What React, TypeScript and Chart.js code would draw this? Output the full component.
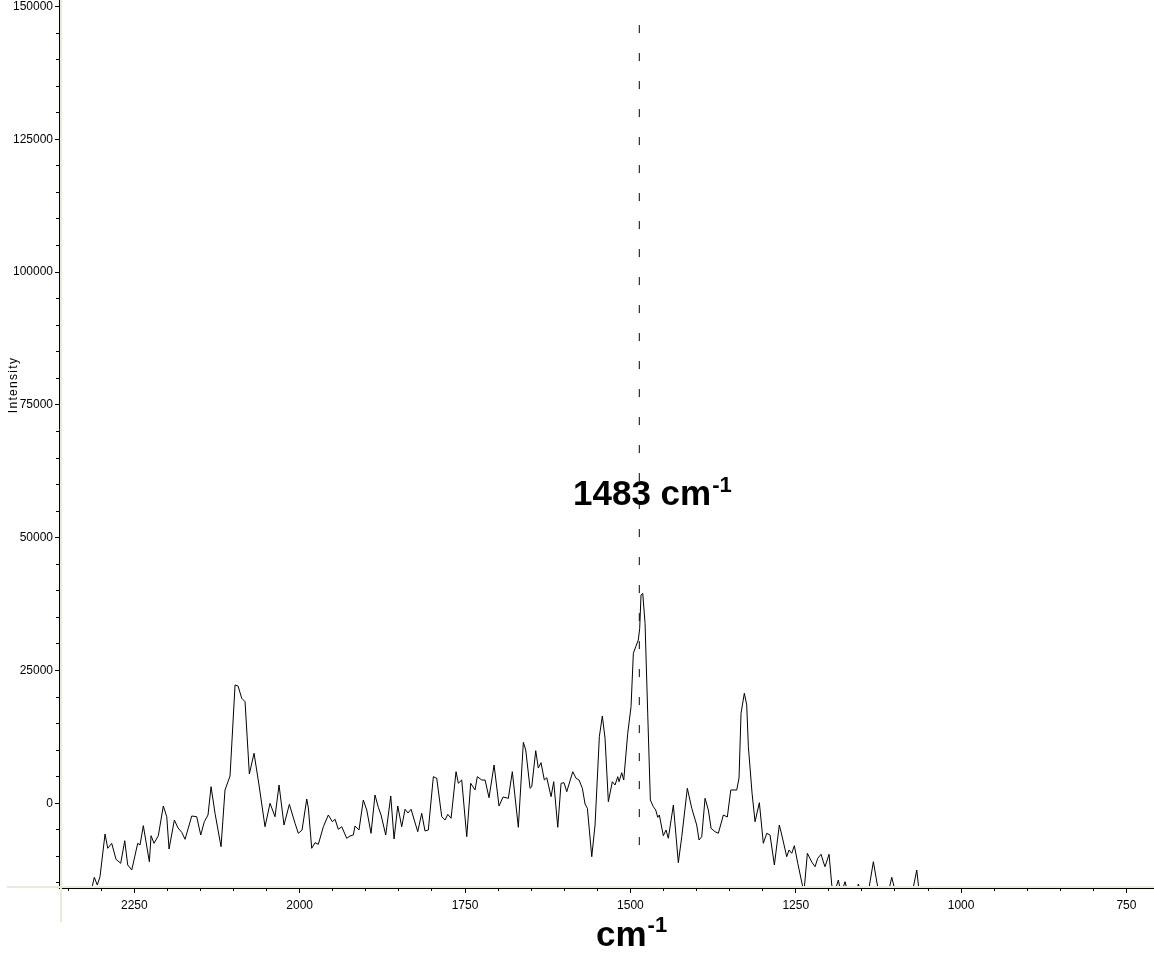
import React, { useEffect, useRef } from 'react';
import { Chart, registerables } from 'chart.js';

Chart.register(...registerables);

// ---- data (wavenumber in cm-1, intensity) ----
const waveNumbers = [
  2317, 2313.5, 2310.5, 2306, 2301.9, 2294.3, 2290.2, 2284.2, 2277.7, 2270.6,
  2264.5, 2260, 2253.9, 2244.9, 2241.4, 2236.4, 2227.3, 2224.7, 2220.2, 2213.7,
  2206.2, 2201, 2197.5, 2189.5, 2183.9, 2178.3, 2173.3, 2163.2, 2155.7, 2149.6,
  2144.2, 2138.6, 2134, 2128, 2118.9, 2112.9, 2105.3, 2097.7, 2093.2, 2087.6,
  2082.6, 2076.1, 2069, 2061.5, 2052.4, 2044.8, 2037.3, 2031.2, 2023.7, 2015.6,
  2007, 2002, 1996.4, 1989.3, 1986.9, 1981.8, 1976.8, 1971.8, 1964.2, 1956.7,
  1950.6, 1946.5, 1941.6, 1936.4, 1928.9, 1923.9, 1918.9, 1916.3, 1910.3, 1903.8,
  1898.6, 1892.1, 1886.1, 1881.1, 1877, 1869.9, 1862.3, 1857.3, 1851.7, 1845.7,
  1840.7, 1836.2, 1831.6, 1821.5, 1815.5, 1810.5, 1805.5, 1797.9, 1792.8, 1785.2,
  1780.2, 1776.1, 1771.1, 1763.6, 1760.1, 1755, 1747.4, 1741.4, 1734.9, 1731.4,
  1724.7, 1719.7, 1713.7, 1706.1, 1698.6, 1692.5, 1684.5, 1678.5, 1669.4, 1661.8,
  1658.2, 1651.7, 1649.1, 1643.1, 1639.2, 1635.1, 1630.1, 1626.4, 1619.9, 1615.9,
  1609.8, 1604.8, 1600.3, 1596.2, 1587.1, 1582.1, 1577.6, 1572.6, 1568.5, 1565,
  1558.4, 1553.4, 1546.9, 1542.4, 1538.3, 1533.3, 1527.3, 1523.2, 1519.1, 1517.1,
  1513.1, 1510, 1504, 1499, 1495.5, 1491.9, 1488, 1485.9, 1483.9, 1481.3,
  1477.8, 1473.8, 1469.8, 1465.3, 1461.7, 1458.6, 1456.2, 1450.2, 1446.1, 1442.6,
  1435, 1427.5, 1422.3, 1413.9, 1407.2, 1399.7, 1396.2, 1392.1, 1387.1, 1382.1,
  1378, 1372, 1367, 1359.4, 1353.4, 1348.2, 1339.2, 1335.7, 1332.7, 1327.7,
  1324.1, 1321.6, 1316, 1311.5, 1305, 1299, 1293.8, 1288.8, 1282.3, 1274.8,
  1271.1, 1263.6, 1260.1, 1256, 1252.1, 1246.9, 1240, 1237.4, 1232.4, 1225.8,
  1220.8, 1216.7, 1211.7, 1208.2, 1205.7, 1199.6, 1195.5, 1192, 1185.5, 1181.5,
  1175.4, 1170.9, 1158.8, 1155.3, 1151.2, 1139.9, 1132.6, 1126.6, 1122.5, 1110.4,
  1104.8, 1099.8, 1074.1, 1067, 1063.5, 1054.4, 720,
];

const intensities = [
  -17500, -15568, -13930, -15380, -13818, -5779, -8471, -7530, -10542, -11295,
  -7041, -11615, -12556, -7530, -7850, -4217, -10994, -6099, -7530, -6099,
  -508, -2523, -8603, -3144, -4650, -5459, -6777, -2391, -2523, -5968,
  -3464, -2203, 3125, -1883, -8170, 2504, 5139, 22270, 22082, 19766,
  19126, 5516, 9413, 3445, -4405, 0, -2523, 3445, -4085, -188,
  -3765, -5648, -5026, 809, -885, -8471, -7417, -7718, -4405, -2203,
  -3464, -3012, -4895, -4405, -6589, -6156, -5968, -4273, -5026, 621,
  -1261, -5648, 1562, -753, -2203, -5968, 1374, -6721, -508, -4405,
  -1130, -1826, -1130, -5346, -1883, -5215, -5026, 5007, 4706, -2523,
  -3144, -2071, -2824, 5949, 3765, 4386, -6288, 3765, 2504, 5007,
  4386, 4386, 1054, 7210, -508, 1186, 941, 5949, -4518, 11483,
  10034, 2824, 3125, 9902, 6645, 7643, 4386, 4819, 1242, 4066,
  -4518, 3765, 3878, 2184, 5949, 4706, 4386, 2824, -132, -941,
  -10053, -4085, 12537, 16434, 12236, 301, 4066, 3445, 5007, 4066,
  5760, 4386, 13178, 18185, 28238, 29480, 30741, 32944, 39213, 39533,
  33885, 16943, 621, -640, -1261, -2636, -2203, -6099, -5026, -6589,
  -320, -11182, -6288, 2824, -941, -4085, -6909, -6288, 941, -1261,
  -4706, -5346, -5648, -2203, -2579, 2504, 2504, 4763, 16943, 20708,
  18505, 10655, 1883, -3464, 113, -7530, -5648, -5968, -11615, -4085,
  -5968, -10053, -8791, -9413, -7982, -11295, -15380, -16500, -9413, -11050,
  -11935, -10354, -9601, -11050, -11935, -9601, -15380, -17000, -14439, -17000,
  -14759, -17000, -17000, -15192, -17000, -16500, -10994, -15380, -17000, -17000,
  -13930, -16500, -17000, -12556, -16500, -17000, -17000,
];

// dashed marker line
const markerWaveNumber = [1486.5, 1486.5];
const markerIntensity = [146500, -11600];

// axis ranges and tick steps
const xMin = 708.3;
const xMax = 2363.9;
const yMin = -15945;
const yMax = 156869;
const xMajorStep = 250;
const xMinorStep = 50;
const yMajorStep = 25000;
const yMinorStep = 5000;

// texts
const yTitle = 'Intensity';
const peakText = '1483 cm';
const unitText = 'cm';
const supText = '-1';

const FONT = '"Liberation Sans", Arial, sans-serif';
const TOP_CUT = 30;
const W = 1154;
const H = 953 + TOP_CUT;

const zeroPad = (s: any) => {
  s.paddingTop = 0;
  s.paddingBottom = 0;
  s.paddingLeft = 0;
  s.paddingRight = 0;
};

const stepTicks = (min: number, max: number, step: number) => {
  const out: { value: number }[] = [];
  for (let v = Math.ceil(min / step) * step; v <= max + 1e-9; v += step) out.push({ value: v });
  return out;
};

const decorPlugin = {
  id: 'decor',
  afterDraw(chart: any) {
    const ctx = chart.ctx as CanvasRenderingContext2D;
    ctx.save();
    // window frame strips
    ctx.fillStyle = '#ECE9D8';
    ctx.fillRect(60, 0, 2, 922 + TOP_CUT);
    ctx.fillRect(7, 886 + TOP_CUT, W - 7, 2);

    ctx.fillStyle = '#000';
    // y title
    ctx.save();
    ctx.translate(14, 385 + TOP_CUT);
    ctx.rotate(-Math.PI / 2);
    ctx.font = `12px ${FONT}`;
    (ctx as any).letterSpacing = '1.3px';
    ctx.textAlign = 'center';
    ctx.textBaseline = 'middle';
    ctx.fillText(yTitle, 0, 0);
    ctx.restore();

    ctx.textAlign = 'left';
    ctx.textBaseline = 'alphabetic';
    // peak annotation
    ctx.font = `bold 35px ${FONT}`;
    const px = 573;
    ctx.fillText(peakText, px, 505 + TOP_CUT);
    const pw = ctx.measureText(peakText).width;
    ctx.font = `bold 22px ${FONT}`;
    ctx.fillText(supText, px + pw + 1, 492 + TOP_CUT);

    // x unit title
    ctx.font = `bold 35px ${FONT}`;
    const ux = 596;
    ctx.fillText(unitText, ux, 946 + TOP_CUT);
    const uw = ctx.measureText(unitText).width;
    ctx.font = `bold 22px ${FONT}`;
    ctx.fillText(supText, ux + uw + 1, 932 + TOP_CUT);
    ctx.restore();
  },
};

export default function App() {
  const canvasRef = useRef<HTMLCanvasElement | null>(null);

  useEffect(() => {
    const canvas = canvasRef.current;
    if (!canvas) return;
    const spectrum = waveNumbers.map((x, i) => ({ x, y: intensities[i] }));
    const marker = markerWaveNumber.map((x, i) => ({ x, y: markerIntensity[i] }));

    const chart = new Chart(canvas, {
      type: 'line',
      data: {
        datasets: [
          {
            data: spectrum,
            borderColor: '#000',
            borderWidth: 1,
            pointRadius: 0,
            tension: 0,
            fill: false,
            xAxisID: 'x',
            yAxisID: 'y',
          },
          {
            data: marker,
            borderColor: '#000',
            borderWidth: 1,
            borderDash: [8, 20],
            pointRadius: 0,
            tension: 0,
            fill: false,
            xAxisID: 'x',
            yAxisID: 'y',
          },
        ],
      },
      options: {
        animation: false,
        responsive: false,
        maintainAspectRatio: false,
        devicePixelRatio: 1,
        events: [],
        layout: { padding: 0 },
        plugins: {
          legend: { display: false },
          tooltip: { enabled: false },
          title: { display: false },
        },
        scales: {
          x: {
            type: 'linear',
            position: 'bottom',
            reverse: true,
            min: xMin,
            max: xMax,
            weight: 1,
            afterBuildTicks: (s: any) => {
              s.ticks = stepTicks(xMin, xMax, xMajorStep);
            },
            afterFit: (s: any) => {
              s.height = H - (888 + TOP_CUT);
              zeroPad(s);
            },
            border: { display: true, color: '#000', width: 1 },
            grid: { display: true, drawOnChartArea: false, drawTicks: true, tickLength: 5, color: '#000' },
            ticks: {
              autoSkip: false,
              maxRotation: 0,
              padding: 5,
              color: '#000',
              font: { family: FONT, size: 12 },
              callback: (v: any) => String(v),
            },
          },
          xMinor: {
            type: 'linear',
            position: 'bottom',
            reverse: true,
            min: xMin,
            max: xMax,
            weight: 0,
            afterBuildTicks: (s: any) => {
              s.ticks = stepTicks(xMin, xMax, xMinorStep);
            },
            afterFit: (s: any) => {
              s.height = 0;
              zeroPad(s);
            },
            border: { display: false },
            grid: { display: true, drawOnChartArea: false, drawTicks: true, tickLength: 3, color: '#000' },
            ticks: { display: false, autoSkip: false },
          },
          y: {
            type: 'linear',
            position: 'left',
            min: yMin,
            max: yMax,
            weight: 1,
            afterBuildTicks: (s: any) => {
              s.ticks = stepTicks(yMin, yMax, yMajorStep);
            },
            afterFit: (s: any) => {
              s.width = 59;
              zeroPad(s);
            },
            border: { display: true, color: '#000', width: 1 },
            grid: { display: true, drawOnChartArea: false, drawTicks: true, tickLength: 4, color: '#000' },
            ticks: {
              autoSkip: false,
              padding: 2,
              color: '#000',
              font: { family: FONT, size: 12 },
              callback: (v: any) => String(v),
            },
          },
          yMinor: {
            type: 'linear',
            position: 'left',
            min: yMin,
            max: yMax,
            weight: 0,
            afterBuildTicks: (s: any) => {
              s.ticks = stepTicks(yMin, yMax, yMinorStep);
            },
            afterFit: (s: any) => {
              s.width = 0;
              zeroPad(s);
            },
            border: { display: false },
            grid: { display: true, drawOnChartArea: false, drawTicks: true, tickLength: 3, color: '#000' },
            ticks: { display: false, autoSkip: false },
          },
        },
      } as any,
      plugins: [decorPlugin],
    });

    return () => chart.destroy();
  }, []);

  return (
    <div
      style={{
        position: 'fixed',
        left: 0,
        top: 0,
        width: W,
        height: 953,
        overflow: 'hidden',
        background: '#fff',
      }}
    >
      <canvas
        ref={canvasRef}
        width={W}
        height={H}
        style={{ position: 'absolute', left: 0, top: -TOP_CUT, width: W, height: H, display: 'block' }}
      />
    </div>
  );
}
